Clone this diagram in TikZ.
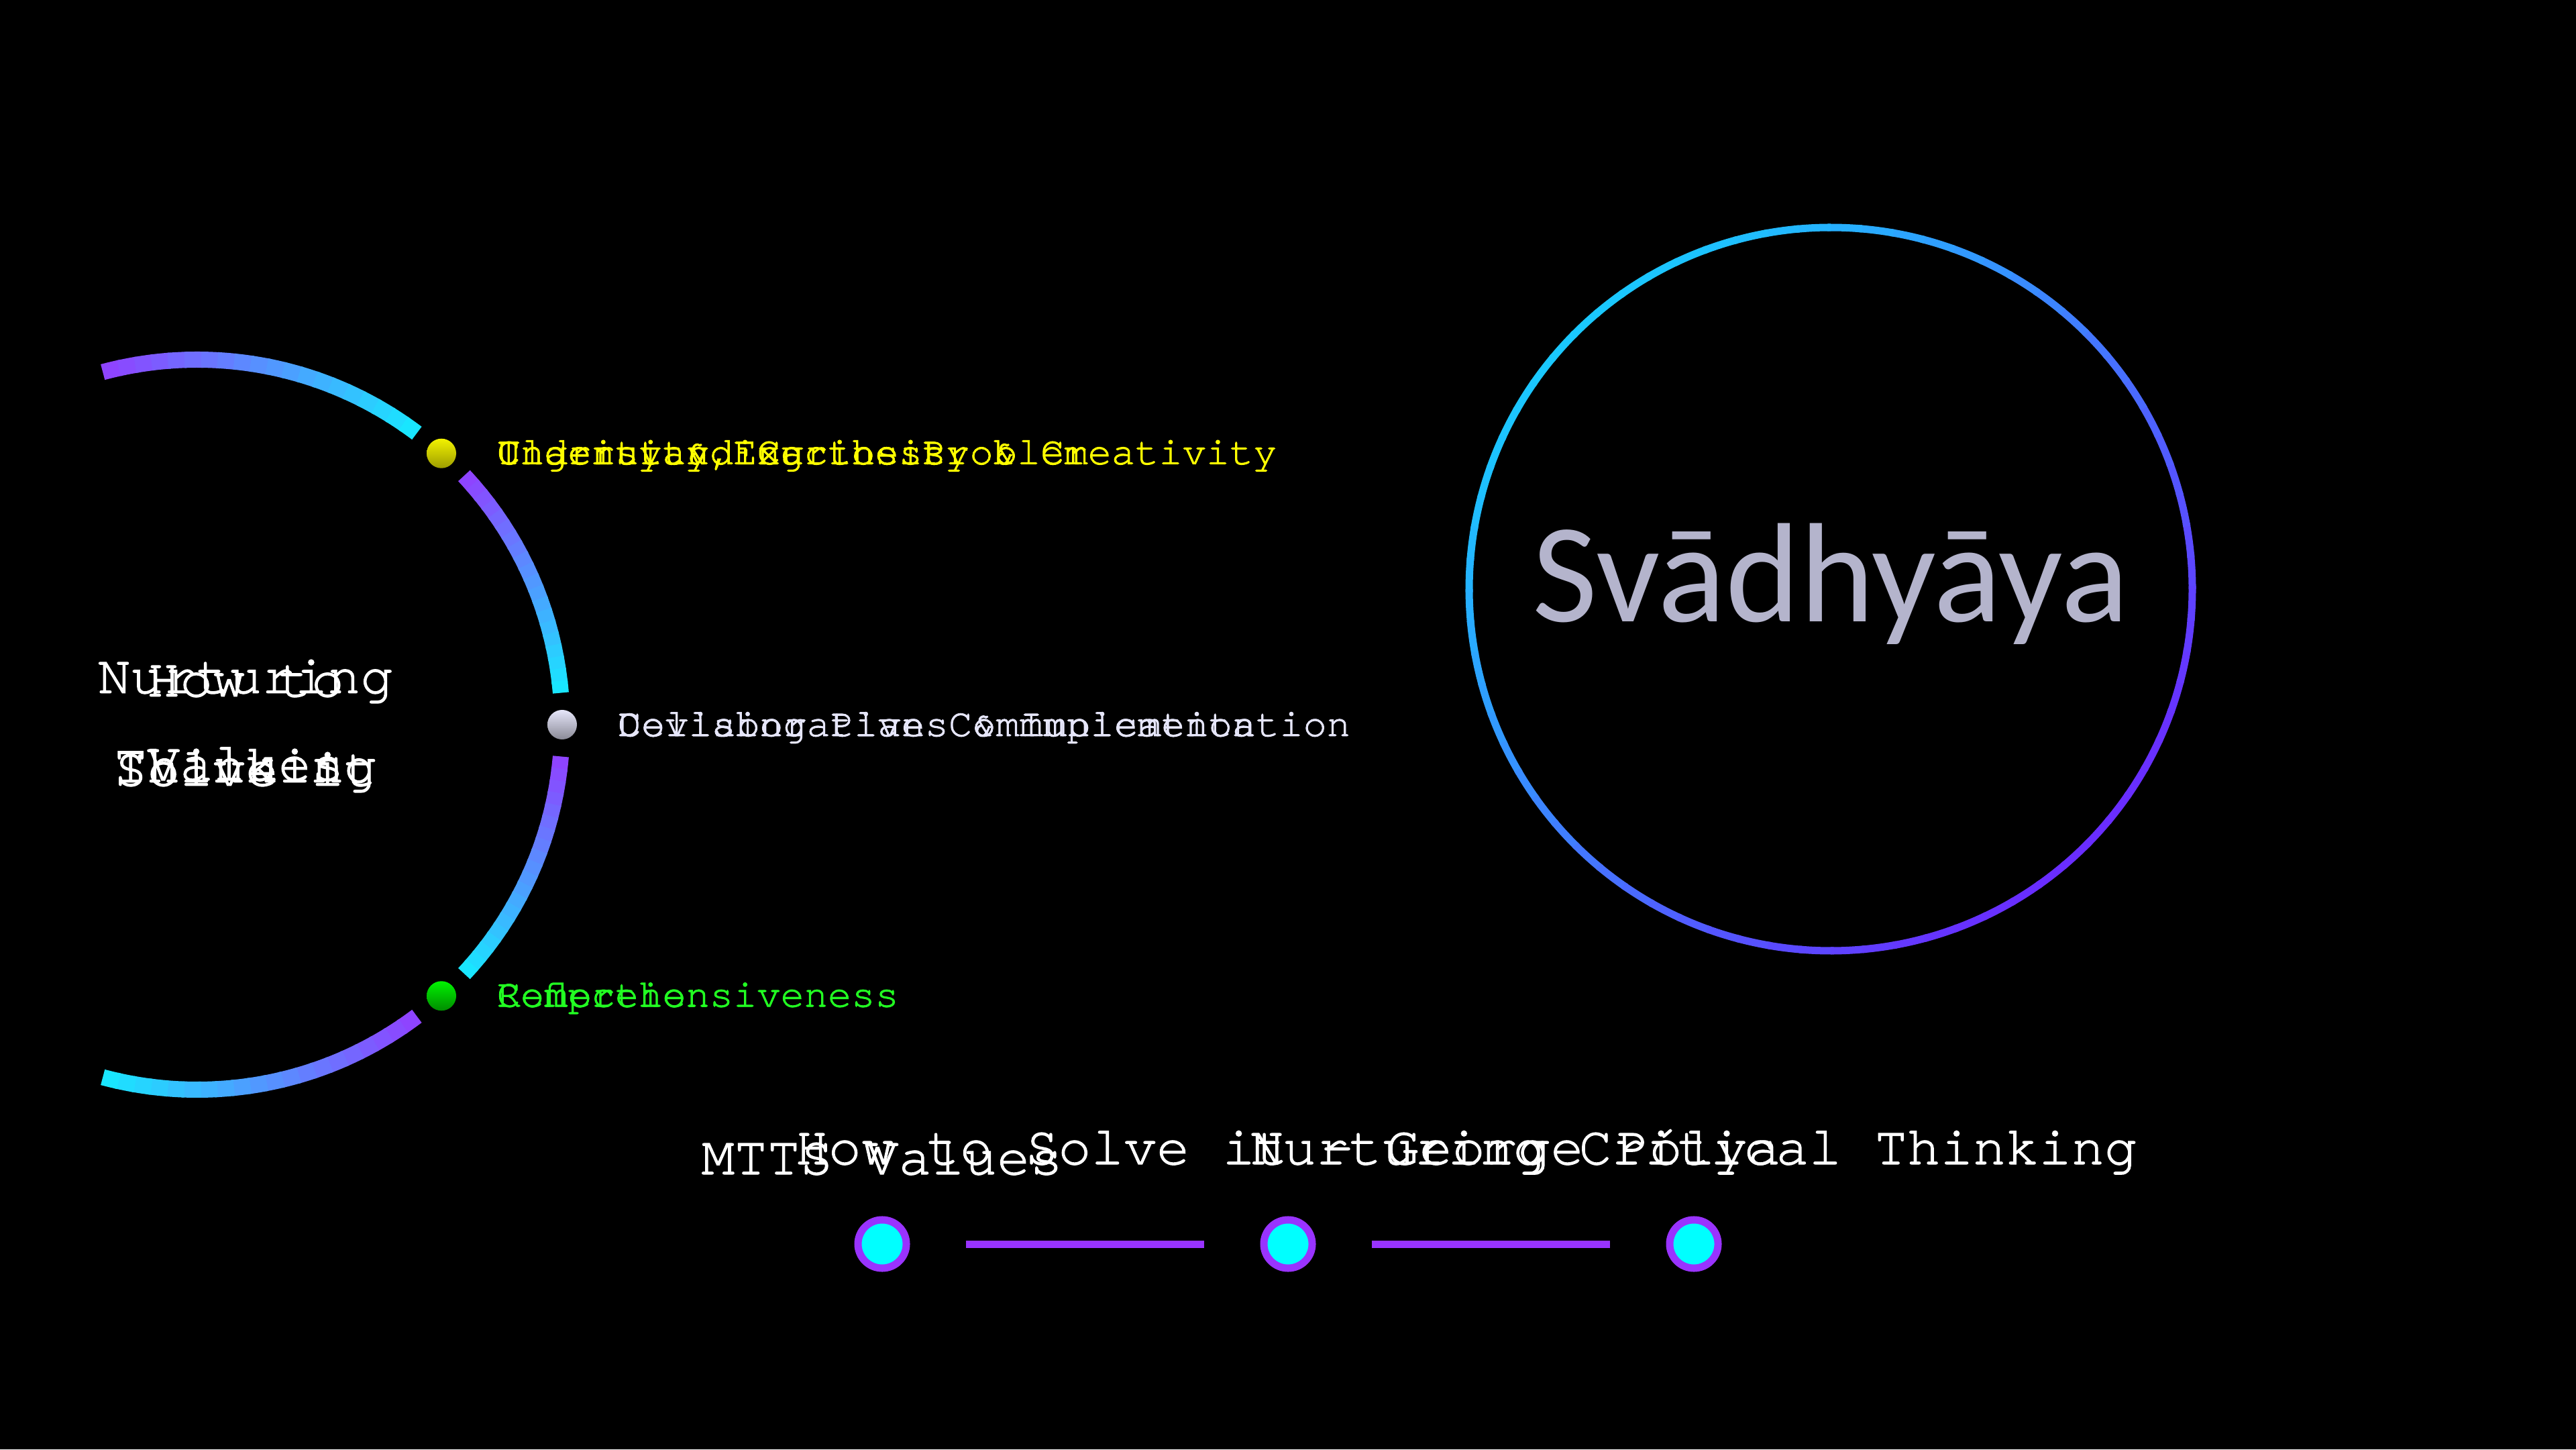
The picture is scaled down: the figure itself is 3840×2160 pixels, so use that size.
\documentclass[tikz,border=0pt]{standalone}
\usepackage{fontspec}
\newfontfamily\curfont{TeX Gyre Cursor}[FakeBold=1.5]
\newfontfamily\svfont{Carlito}
\usetikzlibrary{calc}
\definecolor{arcP}{HTML}{8E44FF}
\definecolor{arcC}{HTML}{19E6FF}
\definecolor{ringC}{HTML}{1AC8FF}
\definecolor{ringP}{HTML}{6A2BFF}
\definecolor{tlP}{HTML}{9933FF}
\definecolor{tlC}{HTML}{00FFFF}
\definecolor{yel}{HTML}{FFFF00}
\definecolor{lav}{HTML}{E6E6FA}
\definecolor{grn}{HTML}{22FF22}
\definecolor{svc}{HTML}{B4B4CC}
\tikzset{
  rowtext/.style={font=\curfont\fontsize{16.7pt}{20pt}\selectfont, inner sep=0pt, anchor=base west},
  bigtext/.style={font=\curfont\fontsize{23.2pt}{37.8pt}\selectfont, inner sep=0pt, anchor=base, text=white},
  blocktext/.style={bigtext, align=center, anchor=center},
  ballnode/.style={circle, inner sep=0pt, minimum size=0.44cm},
  ydot/.style={ballnode, top color=yel!95!black, bottom color=yel!62!black},
  wdot/.style={ballnode, top color=lav, bottom color=lav!60!black},
  gdot/.style={ballnode, top color=green!95!black, bottom color=green!55!black},
  tdot/.style={circle, draw=tlP, line width=1.1mm, fill=tlC, minimum size=0.72cm, inner sep=0pt},
  tline/.style={draw=tlP, line width=1.1mm, shorten >=0.83cm, shorten <=0.83cm},
}
\begin{document}
\begin{tikzpicture}[x=0.01cm,y=0.01cm]
\fill[black] (0,0) rectangle (3840,2160);
\useasboundingbox (0,0) rectangle (3840,2160);

% left gradient arc
\coordinate (L) at (294,1080);
\foreach \s/\e in {105/53, 43/5, -5/-43, -53/-105} {
  \foreach \i in {0,...,19} {
    \pgfmathsetmacro\a{\s+(\e-\s)*\i/20}
    \pgfmathsetmacro\b{\s+(\e-\s)*(\i+1)/20 - (\i<19)*0.4}
    \pgfmathtruncatemacro\p{100*\i/19}
    \draw[line width=2.4mm, color=arcC!\p!arcP] ($(L)+(\a:544)$) arc[start angle=\a, end angle=\b, radius=544];
  }
}

% dots on the arc
\node[ydot] (yd) at ($(L)+(48:544)$) {};
\node[wdot] (wd) at ($(L)+(0:544)$) {};
\node[gdot] (gd) at ($(L)+(-48:544)$) {};

% row texts (overlapping)
\node[rowtext, text=yel] (y1) at ($(yd)+(82,-16)$) {Understanding the Problem};
\node[rowtext, text=yel] (y2) at ($(yd)+(82,-16)$) {Clarity \& Exactness};
\node[rowtext, text=yel] (y3) at ($(yd)+(82,-16)$) {Ingenuity, Curiosity \& Creativity};
\node[rowtext, text=lav] (w1) at ($(wd)+(82,-17)$) {Devising Plans \& Implementation};
\node[rowtext, text=lav] (w2) at ($(wd)+(82,-17)$) {Collaborative Communication};
\node[rowtext, text=grn] (g1) at ($(gd)+(82,-16)$) {Reflection};
\node[rowtext, text=grn] (g2) at ($(gd)+(82,-16)$) {Comprehensiveness};

% left centre texts
\node[blocktext] (c1) at (366,1078) {Nurturing\\Thinking};
\node[blocktext] (c2) at (366,1078) {How to\\Solve it};
\node[bigtext] (c3) at (366,997) {Values};

% right ring
\coordinate (R) at (2729,1282);
\foreach \i in {0,...,71} {
  \pgfmathsetmacro\a{\i*5}
  \pgfmathtruncatemacro\p{50*(1-cos(\a+2.5-135))}
  \draw[line width=1.1mm, color=ringP!\p!ringC] ($(R)+(\a:539)$) arc[start angle=\a, end angle=\a+5.5, radius=539];
}
\node[font=\svfont\fontsize{60pt}{64pt}\selectfont, text=svc, anchor=base, inner sep=0pt] (sv) at (2729,1233) {Svādhyāya};

% timeline
\node[tdot] (t1) at (1315,306) {};
\node[tdot] (t2) at (1920,306) {};
\node[tdot] (t3) at (2525,306) {};
\draw[tline] (t1) -- (t2);
\draw[tline] (t2) -- (t3);
\node[bigtext] (b1) at (1315,410) {MTTS Values};
\node[bigtext] (b2) at (1920,425) {How to Solve it - George Pólya};
\node[bigtext] (b3) at (2525,425) {Nurturing Critical Thinking};
\end{tikzpicture}
\end{document}
